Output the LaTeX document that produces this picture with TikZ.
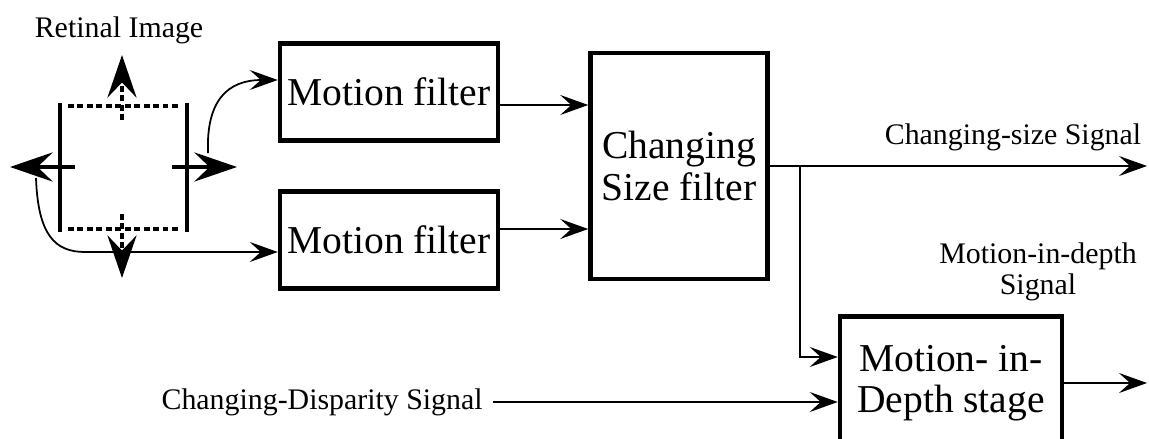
\documentclass[tikz,border=0pt]{standalone}
\usepackage{fontspec}
\setmainfont{Liberation Serif}
\usepackage{tikz}
\usetikzlibrary{arrows.meta}
\usetikzlibrary{positioning}

\begin{document}
\begin{tikzpicture}[x=0.02cm, y=-0.02cm,
  box/.style = {draw, line width=2.6pt, align=center, inner sep=0pt,
    font=\fontsize{22.5}{23.5}\selectfont},
  lab/.style = {align=center, inner sep=0pt, font=\fontsize{17}{18}\selectfont},
  flow/.style = {line width=1pt, -{Stealth[length=0.56cm, width=0.4cm, inset=0.22cm]}},
  bigarrow/.style = {line width=2.8pt, -{Stealth[length=0.85cm, width=0.58cm, inset=0.3cm]}},
  rimline/.style = {line width=2.8pt},
  dotline/.style = {line width=2.6pt, dash pattern=on 3.2pt off 2.2pt}]
  \useasboundingbox (0,0) rectangle (1149,439);
  \clip (0,0) rectangle (1149,439);

  \node[lab] (ri) at (119,30) {Retinal Image};
  \draw[rimline] (60,103) -- (60,232);
  \draw[rimline] (187,103) -- (187,232);
  \draw[dotline] (68,106) -- (181,106);
  \draw[dotline] (68,229) -- (181,229);
  \draw[bigarrow] (75,167) -- (10,167);
  \draw[bigarrow] (172,167) -- (237,167);
  \draw[bigarrow, dotline] (122,120) -- (122,55);
  \draw[bigarrow, dotline] (122,214) -- (122,278);
  \coordinate (ri1) at (208,153);
  \coordinate (ri2) at (36,178);

  \node[box, minimum width=4.36cm, minimum height=1.94cm] (mf1) at (389,92) {Motion filter};
  \node[box, minimum width=4.36cm, minimum height=1.94cm] (mf2) at (389,240) {Motion filter};
  \node[box, minimum width=3.54cm, minimum height=4.52cm] (cs) at (679,166) {Changing\\Size filter};
  \node[box, minimum width=4.44cm, minimum height=2.66cm] (md) at (951,383) {Motion- in-\\Depth stage};

  \node[lab] (css) at (1013,137) {Changing-size Signal};
  \node[lab] (mds) at (1038,272) {Motion-in-depth\\Signal};
  \node[lab, anchor=east] (cds) at (483,402) {Changing-Disparity Signal};
  \coordinate (split) at (800,166);
  \coordinate (out1) at (1147,166);
  \coordinate (out2) at (1147,383);

  \draw[flow] (ri1) .. controls (206,100) and (228,80) .. (mf1.west |- 0,80);
  \draw[flow] (ri2) .. controls (38,235) and (55,252) .. (85,252) -- (mf2.west |- 0,252);
  \draw[flow] (mf1.east |- 0,105) -- (cs.west |- 0,105);
  \draw[flow] (mf2.east |- 0,229) -- (cs.west |- 0,229);
  \draw[flow] (cs.east) -- (out1);
  \draw[flow] (split) |- (md.west |- 0,357);
  \draw[flow] ([xshift=0.2cm]cds.east) -- (md.west |- 0,402);
  \draw[flow] (md.east) -- (out2);
\end{tikzpicture}
\end{document}
